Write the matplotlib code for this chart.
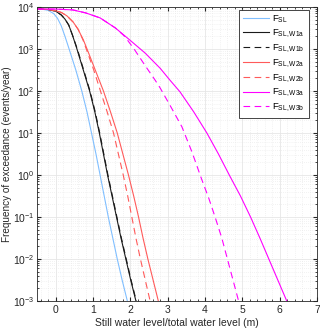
import numpy as np
import matplotlib
matplotlib.use('Agg')
import matplotlib.pyplot as plt
from matplotlib.ticker import LogLocator, MultipleLocator, FixedLocator, NullFormatter

plt.rcParams['font.family'] = ['Liberation Sans', 'DejaVu Sans']
plt.rcParams['mathtext.fontset'] = 'custom'
plt.rcParams['mathtext.rm'] = 'Liberation Sans'
plt.rcParams['mathtext.it'] = 'Liberation Sans:italic'

# curves: water level (m) and log10 of frequency (events/year)
x_sl = [-0.5, -0.35, -0.2, -0.05, 0.05, 0.15, 0.25, 0.36, 0.54, 0.70, 0.84, 0.96, 1.08, 1.19,
        1.30, 1.41, 1.53, 1.65, 1.78, 1.92]
y_sl = [3.95, 3.945, 3.92, 3.84, 3.73, 3.55, 3.30, 3.0, 2.5, 2.0, 1.5, 1.0, 0.5, 0.0,
        -0.5, -1.0, -1.5, -2.0, -2.5, -3.0]

x_w1a = [-0.5, -0.2, 0.0, 0.15, 0.25, 0.35, 0.45, 0.57, 0.74, 0.91, 1.05, 1.17, 1.28, 1.39,
         1.51, 1.63, 1.75, 1.88, 2.01, 2.15]
y_w1a = [3.95, 3.94, 3.90, 3.81, 3.71, 3.57, 3.33, 3.0, 2.5, 2.0, 1.5, 1.0, 0.5, 0.0,
         -0.5, -1.0, -1.5, -2.0, -2.5, -3.0]

x_w1b = [-0.5, -0.2, 0.0, 0.15, 0.25, 0.35, 0.45, 0.58, 0.75, 0.92, 1.06, 1.18, 1.29, 1.40,
         1.52, 1.64, 1.76, 1.89, 2.02, 2.16]
y_w1b = [3.95, 3.94, 3.90, 3.81, 3.71, 3.57, 3.33, 3.0, 2.5, 2.0, 1.5, 1.0, 0.5, 0.0,
         -0.5, -1.0, -1.5, -2.0, -2.5, -3.0]

x_w2a = [-0.5, -0.2, 0.0, 0.15, 0.30, 0.47, 0.60, 0.74, 0.84, 1.06, 1.28, 1.47, 1.65, 1.80,
         1.95, 2.09, 2.22, 2.34, 2.47, 2.61, 2.75]
y_w2a = [3.95, 3.94, 3.91, 3.87, 3.79, 3.64, 3.47, 3.22, 3.0, 2.5, 2.0, 1.5, 1.0, 0.5,
         0.0, -0.5, -1.0, -1.5, -2.0, -2.5, -3.0]

x_w2b = [-0.5, -0.2, 0.0, 0.15, 0.30, 0.47, 0.60, 0.73, 0.82, 1.02, 1.20, 1.38, 1.55, 1.68,
         1.81, 1.93, 2.04, 2.15, 2.27, 2.40, 2.53]
y_w2b = [3.95, 3.94, 3.91, 3.87, 3.79, 3.64, 3.47, 3.22, 3.0, 2.5, 2.0, 1.5, 1.0, 0.5,
         0.0, -0.5, -1.0, -1.5, -2.0, -2.5, -3.0]

x_w3a = [-0.5, 0.0, 0.46, 0.80, 1.19, 1.60, 1.99, 2.40, 2.80, 3.05, 3.33, 3.70, 4.05, 4.36,
         4.65, 4.95, 5.22, 5.47, 5.71, 5.95, 6.19]
y_w3a = [3.95, 3.95, 3.93, 3.86, 3.74, 3.50, 3.21, 2.90, 2.54, 2.27, 1.98, 1.5, 1.0, 0.5,
         0.0, -0.5, -1.0, -1.5, -2.0, -2.5, -3.0]

x_w3b = [-0.5, 0.0, 0.46, 0.80, 1.19, 1.60, 1.85, 2.10, 2.40, 2.67, 2.80, 3.10, 3.38, 3.65,
         3.91, 4.10, 4.27, 4.45, 4.60, 4.75, 4.90]
y_w3b = [3.95, 3.95, 3.93, 3.86, 3.74, 3.50, 3.30, 3.0, 2.6, 2.25, 2.07, 1.6, 1.15, 0.55,
         -0.1, -0.55, -1.0, -1.5, -2.0, -2.5, -3.0]

x_ticks = [0, 1, 2, 3, 4, 5, 6, 7]

labels = [r'F$_{\mathregular{SL}}$', r'F$_{\mathregular{SL,W1a}}$', r'F$_{\mathregular{SL,W1b}}$',
          r'F$_{\mathregular{SL,W2a}}$', r'F$_{\mathregular{SL,W2b}}$', r'F$_{\mathregular{SL,W3a}}$',
          r'F$_{\mathregular{SL,W3b}}$']

dash = (0, (6, 4))
series = [(x_sl, y_sl, '#80bfff', '-'),
          (x_w1a, y_w1a, '#1a1a1a', '-'),
          (x_w1b, y_w1b, '#1a1a1a', dash),
          (x_w2a, y_w2a, '#ff5a5a', '-'),
          (x_w2b, y_w2b, '#ff5a5a', dash),
          (x_w3a, y_w3a, '#ff00ff', '-'),
          (x_w3b, y_w3b, '#ff00ff', dash)]

fig = plt.figure(figsize=(3.2, 3.32), dpi=100)
ax = fig.add_axes([0.1156, 0.0934, 0.875, 0.8856])

for (xs, ys, c, ls), lab in zip(series, labels):
    ax.plot(xs, 10 ** np.array(ys), color=c, ls=ls, lw=0.8, label=lab)

ax.set_yscale('log')
ax.set_xlim(-0.5, 7)
ax.set_ylim(1e-3, 1e4)
ax.xaxis.set_major_locator(FixedLocator(x_ticks))
ax.xaxis.set_minor_locator(MultipleLocator(0.2))
ax.yaxis.set_major_locator(LogLocator(base=10, numticks=20))
ax.yaxis.set_minor_locator(LogLocator(base=10, subs=np.arange(2, 10), numticks=20))
ax.yaxis.set_minor_formatter(NullFormatter())

ax.grid(True, which='major', color='#e6e6e6', lw=0.6)
ax.grid(True, which='minor', color='#e6e6e6', lw=0.5, ls=(0, (1, 2)))
ax.set_axisbelow(True)

ax.tick_params(which='both', direction='in', top=True, right=True, labelsize=7.5,
               color='#262626', labelcolor='#262626')
ax.tick_params(which='minor', labelbottom=False, labelleft=False)
ax.tick_params(axis='x', pad=3)
ax.tick_params(axis='y', pad=2)
ax.tick_params(which='major', length=3)
ax.tick_params(which='minor', length=1.5)
for s in ax.spines.values():
    s.set_color('#262626')
    s.set_linewidth(0.6)

ax.set_xlabel('Still water level/total water level (m)', fontsize=7.5, color='#262626', labelpad=2)
ax.set_ylabel('Frequency of exceedance (events/year)', fontsize=7.2, color='#262626', labelpad=0.5)

leg = ax.legend(loc='upper right', fontsize=6.8, frameon=True, fancybox=False,
                edgecolor='#262626', framealpha=1, handlelength=2.8, labelspacing=0.3,
                borderpad=0.4, handletextpad=0.3, borderaxespad=0, bbox_to_anchor=(0.97, 0.99))
leg.get_frame().set_linewidth(0.6)

fig.savefig('out.png', dpi=100)
